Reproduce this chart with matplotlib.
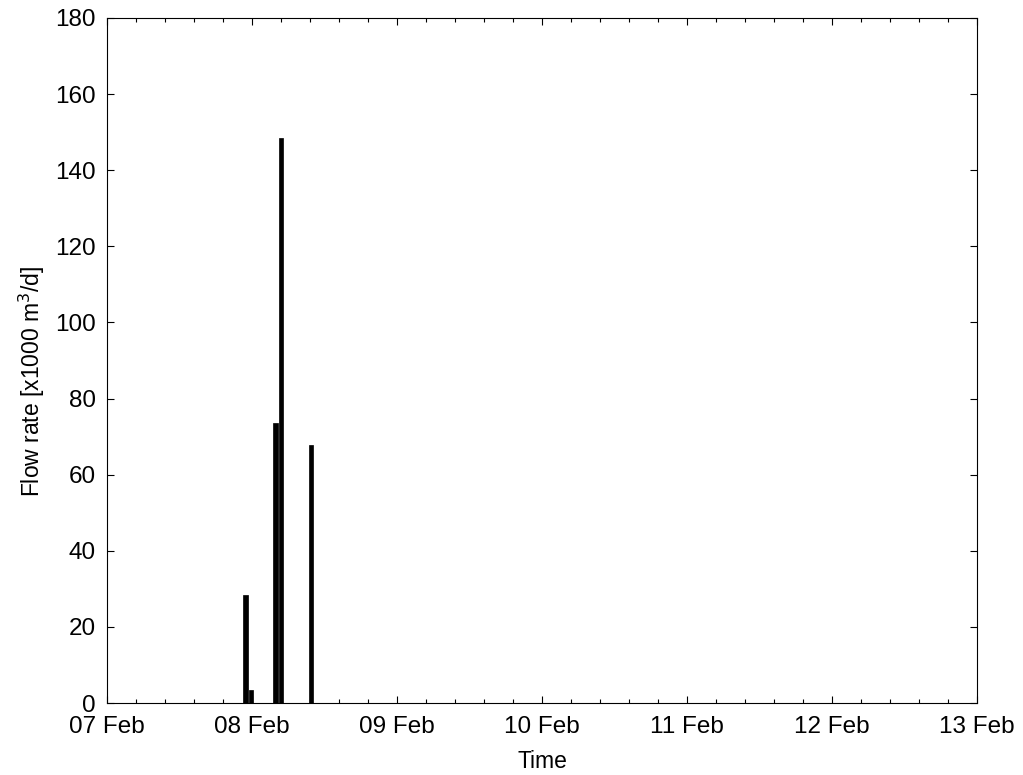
import matplotlib
matplotlib.use('Agg')
import matplotlib.pyplot as plt
from matplotlib.ticker import MultipleLocator
import numpy as np
from datetime import datetime, timedelta

plt.rcParams['font.family'] = ['Liberation Sans', 'DejaVu Sans']

# data
times = ['2020-02-07 22:51', '2020-02-07 23:50', '2020-02-08 03:49',
         '2020-02-08 04:48', '2020-02-08 09:46']
flow = [28.5, 3.4, 73.6, 148.4, 67.9]
day_labels = ['07 Feb', '08 Feb', '09 Feb', '10 Feb', '11 Feb', '12 Feb', '13 Feb']

t = [datetime.strptime(s, '%Y-%m-%d %H:%M') for s in times]
start = datetime(2020, 2, 7)
days = [start + timedelta(days=i) for i in range(len(day_labels))]

fig = plt.figure(figsize=(10.23, 7.75), dpi=100)
ax = fig.add_axes([0.1046, 0.0929, 0.8504, 0.8839])

ax.bar(t, flow, width=0.034, color='black', edgecolor='black', linewidth=0.5)

ax.set_xlim(days[0], days[-1])
ax.set_ylim(0, 180)
ax.set_xticks(days)
ax.set_xticklabels(day_labels)
ax.set_yticks(np.arange(0, 181, 20))
ax.xaxis.set_minor_locator(MultipleLocator(0.2))

ax.tick_params(direction='in', top=True, right=True, labelsize=17.5, length=5, width=0.8)
ax.tick_params(axis='x', pad=9)
ax.tick_params(axis='y', pad=8)
ax.tick_params(which='minor', direction='in', top=True, bottom=True, length=3, width=0.8)
for s in ax.spines.values():
    s.set_linewidth(0.8)

ax.set_xlabel('Time', fontsize=16.5, labelpad=9)
ax.set_ylabel('Flow rate [x1000 m$^3$/d]', fontsize=16.5)
ax.yaxis.set_label_coords(-0.069, 0.47)

fig.savefig('out.png', dpi=100)
